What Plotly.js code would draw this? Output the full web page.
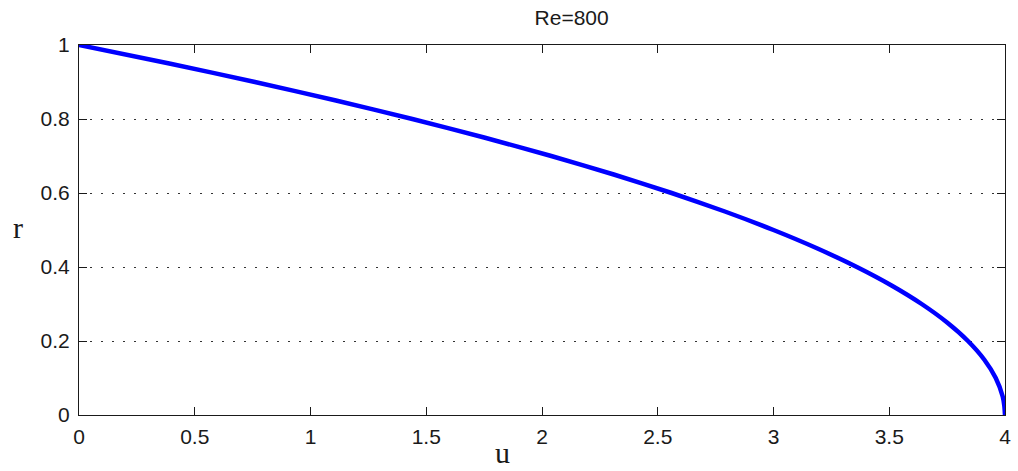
<!DOCTYPE html>
<html>
<head>
<meta charset="utf-8">
<script src="https://cdn.plot.ly/plotly-3.0.1.min.js"></script>
<style>
  html, body { margin: 0; padding: 0; background: #fff; }
  #chart { width: 1018px; height: 471px; }
</style>
</head>
<body>
<div id="chart"></div>
<script>
// Axial velocity profile u(r) across the pipe radius, Re = 800
const radius = [1.0, 0.95, 0.9, 0.85, 0.8, 0.75, 0.7, 0.65, 0.6, 0.55, 0.5,
                0.45, 0.4, 0.35, 0.3, 0.25, 0.2, 0.15, 0.1, 0.05, 0.025, 0.0];
const velocity = [0.0, 0.39, 0.76, 1.11, 1.44, 1.75, 2.04, 2.31, 2.56, 2.79, 3.0,
                  3.19, 3.36, 3.51, 3.64, 3.75, 3.84, 3.91, 3.96, 3.99, 3.997, 4.0];
const xTicks = [0, 0.5, 1, 1.5, 2, 2.5, 3, 3.5, 4];
const xTickText = ['0', '0.5', '1', '1.5', '2', '2.5', '3', '3.5', '4'];
const yTicks = [0, 0.2, 0.4, 0.6, 0.8, 1];
const yTickText = ['0', '0.2', '0.4', '0.6', '0.8', '1'];

const tickFont = { family: 'Liberation Sans, Arial, sans-serif', size: 21, color: '#1a1a1a' };
const labelFont = { family: 'Liberation Serif, Times New Roman, serif', size: 30, color: '#1a1a1a' };

const trace = {
  x: velocity,
  y: radius,
  type: 'scatter',
  mode: 'lines',
  line: { color: '#0000ff', width: 4.5, shape: 'spline', smoothing: 0.6 },
  hoverinfo: 'skip'
};

const layout = {
  width: 1018,
  height: 471,
  margin: { l: 79, r: 13, t: 45, b: 56, pad: 0 },
  paper_bgcolor: '#ffffff',
  plot_bgcolor: '#ffffff',
  showlegend: false,
  title: {
    text: 'Re=800',
    font: { family: 'Liberation Sans, Arial, sans-serif', size: 21, color: '#1a1a1a' },
    x: 0.532, xref: 'paper', xanchor: 'center',
    y: 0.962, yref: 'container', yanchor: 'middle'
  },
  xaxis: {
    range: [0, 4],
    tickvals: xTicks,
    ticktext: xTickText,
    ticks: 'inside',
    ticklen: 8,
    tickwidth: 1,
    tickcolor: '#1a1a1a',
    showline: true,
    linecolor: '#1a1a1a',
    linewidth: 1,
    mirror: 'ticks',
    showgrid: false,
    zeroline: false,
    tickfont: tickFont,
    ticklabelstandoff: 3
  },
  yaxis: {
    range: [0, 1],
    tickvals: yTicks,
    ticktext: yTickText,
    ticks: 'inside',
    ticklen: 8,
    tickwidth: 1,
    tickcolor: '#1a1a1a',
    showline: true,
    linecolor: '#1a1a1a',
    linewidth: 1,
    mirror: 'ticks',
    showgrid: true,
    gridcolor: '#333333',
    gridwidth: 1,
    griddash: '2px,9px',
    zeroline: false,
    tickfont: tickFont,
    ticklabelstandoff: 4
  },
  annotations: [
    {
      // horizontal axis label
      text: 'u',
      font: labelFont,
      xref: 'paper', yref: 'paper',
      x: 0.457, y: -0.1,
      xanchor: 'center', yanchor: 'middle',
      borderpad: 0,
      showarrow: false
    },
    {
      // vertical axis label, kept upright
      text: 'r',
      font: labelFont,
      xref: 'paper', yref: 'paper',
      x: -0.066, y: 0.508,
      xanchor: 'center', yanchor: 'middle',
      borderpad: 0,
      showarrow: false
    }
  ]
};

Plotly.newPlot('chart', [trace], layout, { displayModeBar: false, staticPlot: true });
</script>
</body>
</html>
